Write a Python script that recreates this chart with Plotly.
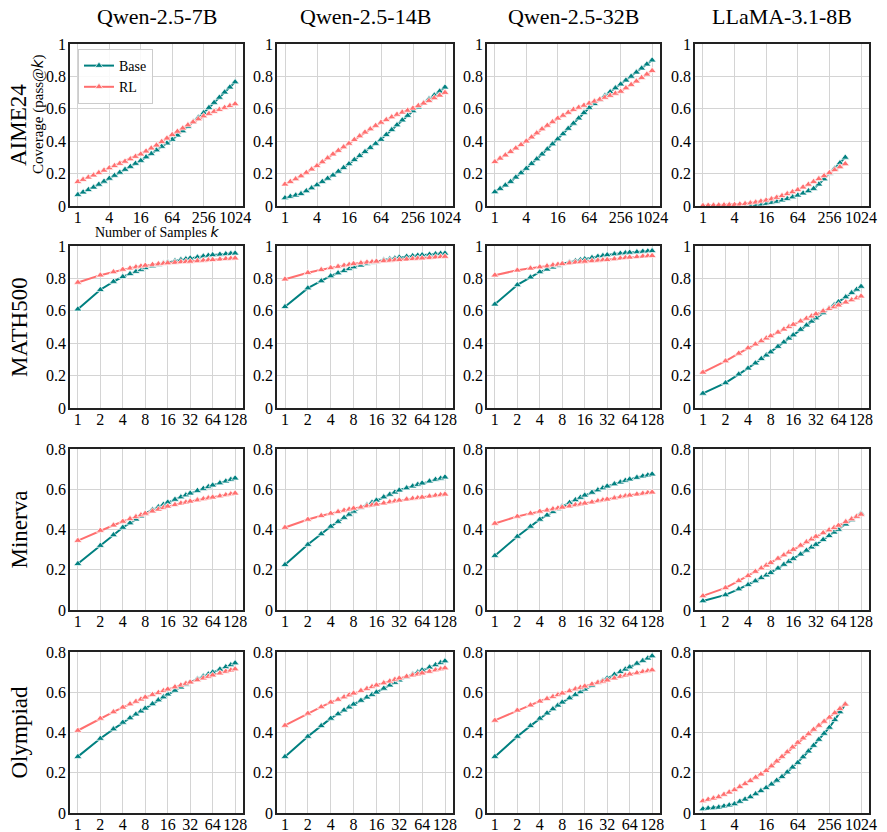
import plotly.graph_objects as go

# sample counts k
K1024 = [1, 1.26, 1.59, 2, 2.52, 3.17, 4, 5.04, 6.35, 8, 10.1, 12.7, 16, 20.2, 25.4, 32,
         40.3, 50.8, 64, 80.6, 102, 128, 161, 203, 256, 323, 406, 512, 645, 813, 1024]
K512 = [1, 1.26, 1.59, 2, 2.52, 3.17, 4, 5.04, 6.35, 8, 10.1, 12.7, 16, 20.2, 25.4, 32,
        40.3, 50.8, 64, 80.6, 102, 128, 161, 203, 256, 323, 406, 512]
K128 = [1, 2, 3, 4, 5, 6, 7, 8, 10, 12, 14, 16, 20, 24, 28, 32, 40, 48, 56, 64, 80, 96, 112, 128]

models = ["Qwen-2.5-7B", "Qwen-2.5-14B", "Qwen-2.5-32B", "LLaMA-3.1-8B"]
datasets = ["AIME24", "MATH500", "Minerva", "Olympiad"]

# ---- AIME24 ----
aime_7b_base = [.07, .085, .10, .115, .133, .152, .17, .188, .207, .225, .243, .262, .28, .302, .323, .345,
                .367, .388, .41, .437, .463, .49, .518, .547, .575, .607, .638, .67, .702, .733, .765]
aime_7b_rl = [.15, .163, .177, .19, .205, .22, .235, .248, .262, .275, .29, .305, .32, .338, .357, .375,
              .397, .418, .44, .46, .48, .50, .518, .537, .555, .57, .583, .595, .607, .619, .63]
aime_14b_base = [.05, .058, .066, .075, .093, .111, .13, .15, .17, .19, .213, .236, .26, .285, .31, .335,
                 .36, .385, .41, .44, .47, .50, .53, .558, .587, .61, .635, .66, .684, .708, .733]
aime_14b_rl = [.134, .15, .167, .185, .206, .227, .248, .272, .296, .32, .342, .364, .386, .409, .432, .455,
               .475, .496, .516, .532, .549, .565, .578, .59, .603, .619, .634, .65, .667, .683, .70]
aime_32b_base = [.087, .107, .128, .15, .177, .204, .231, .261, .29, .32, .351, .382, .413, .445, .478, .51,
                 .542, .575, .607, .631, .656, .68, .704, .728, .752, .776, .80, .825, .85, .875, .90]
aime_32b_rl = [.273, .294, .314, .335, .357, .378, .40, .425, .45, .475, .497, .519, .541, .559, .577, .595,
               .608, .621, .634, .646, .658, .67, .682, .695, .707, .728, .749, .77, .792, .813, .835]
aime_llama_base = [0, 0, 0, 0, 0, .001, .001, .002, .003, .005, .008, .011, .015, .021, .028, .036,
                   .045, .055, .066, .079, .093, .107, .134, .166, .20, .232, .266, .30]
aime_llama_rl = [.002, .003, .004, .005, .006, .007, .008, .011, .014, .018, .023, .029, .035, .043, .052, .063,
                 .075, .087, .10, .116, .133, .15, .168, .186, .205, .223, .241, .26]

# ---- MATH500 ----
math_7b_base = [.61, .73, .78, .81, .828, .842, .854, .865, .876, .885, .893, .90,
                .908, .915, .92, .925, .931, .937, .941, .945, .948, .951, .953, .955]
math_7b_rl = [.775, .82, .84, .855, .863, .87, .875, .88, .885, .889, .892, .895,
              .898, .901, .903, .905, .908, .911, .913, .915, .918, .921, .923, .925]
math_14b_base = [.625, .74, .784, .815, .833, .847, .859, .87, .881, .89, .898, .905,
                 .913, .92, .925, .93, .935, .939, .942, .945, .948, .951, .953, .955]
math_14b_rl = [.795, .835, .853, .865, .873, .88, .885, .89, .895, .899, .902, .905,
               .908, .911, .913, .915, .918, .921, .923, .925, .928, .931, .933, .935]
math_32b_base = [.64, .76, .807, .84, .856, .869, .88, .89, .90, .908, .914, .92,
                 .928, .935, .94, .945, .95, .954, .957, .96, .963, .966, .968, .97]
math_32b_rl = [.82, .85, .862, .87, .876, .882, .886, .89, .895, .899, .902, .905,
               .908, .911, .913, .915, .92, .924, .927, .93, .933, .936, .938, .94]
math_llama_base = [.09, .155, .208, .245, .277, .304, .326, .345, .379, .406, .43, .45,
                   .484, .511, .535, .555, .587, .614, .636, .655, .685, .711, .732, .75]
math_llama_rl = [.22, .29, .337, .37, .394, .414, .431, .445, .467, .486, .501, .515,
                 .536, .553, .567, .58, .598, .612, .624, .635, .653, .667, .679, .69]

# ---- Minerva ----
min_7b_base = [.23, .32, .373, .41, .432, .451, .466, .48, .498, .512, .524, .535,
               .549, .561, .571, .58, .593, .603, .612, .62, .631, .64, .648, .655]
min_7b_rl = [.345, .395, .421, .44, .453, .463, .472, .48, .491, .50, .508, .515,
             .523, .53, .535, .54, .546, .552, .556, .56, .566, .572, .576, .58]
min_14b_base = [.225, .325, .378, .415, .439, .459, .475, .49, .508, .522, .534, .545,
                .561, .574, .585, .595, .606, .615, .623, .63, .64, .648, .654, .66]
min_14b_rl = [.41, .45, .468, .48, .488, .495, .50, .505, .511, .517, .521, .525,
              .531, .537, .541, .545, .55, .554, .557, .56, .565, .569, .572, .575]
min_32b_base = [.27, .365, .415, .45, .471, .488, .502, .515, .533, .547, .559, .57,
                .584, .596, .606, .615, .626, .635, .643, .65, .658, .665, .67, .675]
min_32b_rl = [.43, .465, .48, .49, .496, .502, .506, .51, .516, .522, .526, .53,
              .536, .542, .546, .55, .556, .562, .566, .57, .575, .579, .582, .585]
min_llama_base = [.045, .075, .104, .125, .144, .16, .173, .185, .207, .226, .241, .255,
                  .277, .296, .312, .325, .349, .369, .386, .40, .426, .447, .465, .48]
min_llama_rl = [.07, .11, .145, .17, .191, .208, .222, .235, .256, .273, .287, .30,
                .321, .338, .352, .365, .383, .397, .409, .42, .438, .452, .464, .475]

# ---- Olympiad ----
oly_7b_base = [.28, .37, .417, .45, .472, .491, .506, .52, .542, .561, .576, .59,
               .609, .625, .638, .65, .666, .679, .69, .70, .714, .726, .736, .745]
oly_7b_rl = [.41, .47, .502, .525, .541, .554, .565, .575, .588, .598, .607, .615,
             .626, .635, .643, .65, .661, .67, .678, .685, .695, .703, .709, .715]
oly_14b_base = [.28, .38, .433, .47, .492, .511, .526, .54, .559, .575, .588, .60,
                .619, .635, .648, .66, .676, .689, .70, .71, .724, .736, .746, .755]
oly_14b_rl = [.435, .495, .527, .55, .564, .576, .586, .595, .608, .618, .627, .635,
              .646, .655, .663, .67, .678, .685, .69, .695, .703, .71, .715, .72]
oly_32b_base = [.28, .38, .433, .47, .496, .517, .535, .55, .571, .588, .602, .615,
                .633, .647, .659, .67, .688, .702, .714, .725, .743, .757, .769, .78]
oly_32b_rl = [.46, .51, .536, .555, .568, .578, .587, .595, .606, .616, .623, .63,
              .64, .648, .654, .66, .67, .678, .684, .69, .696, .702, .706, .71]
oly_llama_base = [.02, .023, .025, .028, .034, .039, .045, .057, .068, .08, .095, .11, .125, .143, .162, .18,
                  .203, .227, .25, .278, .307, .335, .365, .395, .425, .463, .502, .54]
oly_llama_rl = [.06, .067, .073, .08, .092, .103, .115, .13, .145, .16, .177, .193, .21, .233, .257, .28,
                .303, .327, .35, .372, .393, .415, .435, .455, .475, .497, .518, .54]

panels = [
    [(K1024, aime_7b_base, aime_7b_rl), (K1024, aime_14b_base, aime_14b_rl),
     (K1024, aime_32b_base, aime_32b_rl), (K512, aime_llama_base, aime_llama_rl)],
    [(K128, math_7b_base, math_7b_rl), (K128, math_14b_base, math_14b_rl),
     (K128, math_32b_base, math_32b_rl), (K128, math_llama_base, math_llama_rl)],
    [(K128, min_7b_base, min_7b_rl), (K128, min_14b_base, min_14b_rl),
     (K128, min_32b_base, min_32b_rl), (K128, min_llama_base, min_llama_rl)],
    [(K128, oly_7b_base, oly_7b_rl), (K128, oly_14b_base, oly_14b_rl),
     (K128, oly_32b_base, oly_32b_rl), (K512, oly_llama_base, oly_llama_rl)],
]
wide = [[True, True, True, True], [False] * 4, [False] * 4, [False, False, False, True]]
ymax = [1, 1, 0.8, 0.8]

W, H = 887, 832
col_px = [(70, 243), (277, 453), (487, 660), (695, 869)]
row_px = [(44, 206), (246, 408), (449, 610), (652, 813)]

BASE = "#008080"
RL = "#ff6f6f"
SERIF = "Liberation Serif"
L2 = 0.30103

fig = go.Figure()
layout = {}
for r in range(4):
    for c in range(4):
        n = r * 4 + c + 1
        xa = "x" if n == 1 else "x%d" % n
        ya = "y" if n == 1 else "y%d" % n
        k, base, rl = panels[r][c]
        first = (n == 1)
        for name, vals, col in [("Base", base, BASE), ("RL", rl, RL)]:
            fig.add_trace(go.Scatter(
                x=k, y=vals, name=name, mode="lines+markers", xaxis=xa, yaxis=ya,
                line=dict(color=col, width=2),
                marker=dict(symbol="triangle-up", size=7, color=col,
                            line=dict(color="white", width=0.7)),
                showlegend=first))
        if wide[r][c]:
            xr = [-0.5 * L2, 10.5 * L2]
            tv = [1, 4, 16, 64, 256, 1024]
        else:
            xr = [-0.35 * L2, 7.35 * L2]
            tv = [1, 2, 4, 8, 16, 32, 64, 128]
        if ymax[r] == 1:
            yv = [0, 0.2, 0.4, 0.6, 0.8, 1]
            yt = ["0", "0.2", "0.4", "0.6", "0.8", "1"]
        else:
            yv = [0, 0.2, 0.4, 0.6, 0.8]
            yt = ["0", "0.2", "0.4", "0.6", "0.8"]
        x0, x1 = col_px[c]
        y0, y1 = row_px[r]
        common = dict(showline=True, mirror=True, linecolor="#222222", linewidth=1.5,
                      showgrid=True, gridcolor="#d4d4d4", gridwidth=1, zeroline=False,
                      automargin=False, ticks="",
                      tickfont=dict(family=SERIF, size=16, color="black"))
        layout["xaxis" if n == 1 else "xaxis%d" % n] = dict(
            type="log", range=xr, tickvals=tv, ticktext=[str(t) for t in tv],
            tickangle=0, ticklabelstandoff=-4,
            domain=[x0 / W, x1 / W], anchor=ya, **common)
        layout["yaxis" if n == 1 else "yaxis%d" % n] = dict(
            range=[0, ymax[r]], tickvals=yv, ticktext=yt, ticklabelstandoff=-1,
            domain=[1 - y1 / H, 1 - y0 / H], anchor=xa, **common)

ann = []
for c, m in enumerate(models):
    x0, x1 = col_px[c]
    ann.append(dict(text=m, x=(x0 + x1) / 2 / W, y=1 - 16 / H, xref="paper", yref="paper",
                    xanchor="center", yanchor="middle", showarrow=False,
                    font=dict(family=SERIF, size=22, color="black")))
for r, d in enumerate(datasets):
    y0, y1 = row_px[r]
    ann.append(dict(text=d, x=19 / W, y=1 - (y0 + y1) / 2 / H, xref="paper", yref="paper",
                    xanchor="center", yanchor="middle", showarrow=False, textangle=-90,
                    font=dict(family=SERIF, size=23, color="black")))
kk = '<span style="font-family:DejaVu Sans"><i>k</i></span>'
ann.append(dict(text="Coverage (pass@" + kk + ")", x=38 / W, y=1 - 114 / H, xref="paper", yref="paper",
                xanchor="center", yanchor="middle", showarrow=False, textangle=-90,
                font=dict(family=SERIF, size=15, color="black")))
ann.append(dict(text="Number of Samples " + kk, x=(70 + 243) / 2 / W, y=1 - 232 / H,
                xref="paper", yref="paper", xanchor="center", yanchor="middle", showarrow=False,
                font=dict(family=SERIF, size=14, color="black")))

fig.update_layout(
    width=W, height=H, margin=dict(l=0, r=0, t=0, b=0, autoexpand=False),
    paper_bgcolor="white", plot_bgcolor="white",
    annotations=ann,
    legend=dict(x=78 / W, y=1 - 49 / H, xanchor="left", yanchor="top",
                bgcolor="rgba(255,255,255,0.85)", bordercolor="#cccccc", borderwidth=1,
                itemwidth=30,
                font=dict(family=SERIF, size=14, color="black"), tracegroupgap=0),
    **layout)

fig.write_html("out.html", config={"displayModeBar": False},
               post_script="document.body.style.margin='0';")
